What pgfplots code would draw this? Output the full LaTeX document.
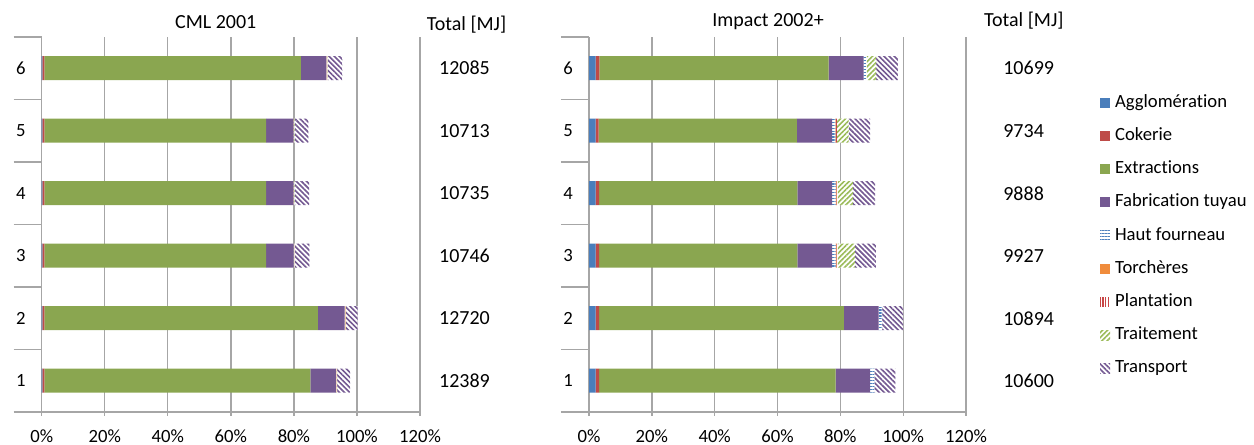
\documentclass[border=0pt]{standalone}
\usepackage{pgfplots}
\pgfplotsset{compat=1.18}
\usepackage{pgfplotstable}
\usepackage{fontspec}
\setmainfont{Carlito}[Ligatures=NoCommon]
\usetikzlibrary{patterns.meta}

\definecolor{agg}{RGB}{74,126,187}
\definecolor{cok}{RGB}{190,75,72}
\definecolor{ext}{RGB}{138,166,80}
\definecolor{fab}{RGB}{116,89,146}
\definecolor{hf}{RGB}{79,129,189}
\definecolor{tor}{RGB}{240,140,60}
\definecolor{pla}{RGB}{200,70,70}
\definecolor{tra}{RGB}{155,187,89}
\definecolor{trn}{RGB}{116,89,146}
\definecolor{axgray}{RGB}{166,166,166}

% CML 2001 shares, % of total
\pgfplotstableread{
cat agg cok ext  fab hf  tor pla tra trn
1   0.2 0.6 84.4 8.1 0.1 0.1 0.1 0.1 4.1
2   0.2 0.6 86.8 8.5 0.1 0.1 0.1 0.1 3.7
3   0.2 0.6 70.4 8.7 0.1 0.1 0.1 0.1 4.6
4   0.2 0.6 70.4 8.6 0.1 0.1 0.1 0.1 4.6
5   0.2 0.6 70.4 8.6 0.1 0.1 0.1 0.1 4.4
6   0.2 0.6 81.4 8.1 0.1 0.1 0.1 0.1 4.7
}\cml

% Impact 2002+ shares, % of total
\pgfplotstableread{
cat agg cok ext  fab  hf  tor pla tra trn
1   2.1 1.1 75.3 11.0 1.3 0.0 0.0 0.0 6.7
2   2.1 1.1 77.9 11.1 1.1 0.0 0.0 0.0 6.7
3   2.1 1.1 63.1 11.1 1.1 0.2 0.4 5.5 6.7
4   2.1 1.1 63.1 11.1 1.1 0.2 0.4 4.9 7.1
5   2.1 1.0 63.1 11.2 1.0 0.2 0.3 3.7 6.9
6   2.1 1.2 73.0 11.1 1.0 0.0 0.0 3.0 6.9
}\imp

\tikzset{tot/.style={anchor=west, inner sep=0pt}}

\pgfplotsset{
  lcabar/.style={
    xbar stacked, bar width=18pt, scale only axis,
    height=281.25pt,
    xmin=0, xmax=120, ymin=0.5, ymax=6.5,
    xtick={0,20,...,120},
    xticklabel={\pgfmathprintnumber{\tick}\%},
    ytick={1,...,6},
    axis lines*=left,
    axis line style={axgray, line width=1pt},
    xmajorgrids, grid style={axgray, line width=1pt},
    tick align=outside, major tick length=3pt,
    tick style={axgray, line width=1pt},
    ytick style={draw=none},
    extra y ticks={0.5,1.5,...,6.5}, extra y tick labels={},
    extra y tick style={major tick length=21pt, ytick style={draw=axgray, line width=1pt}, grid=none},
    /pgf/number format/assume math mode=true,
    tick label style={font=\fontsize{14}{17}\selectfont},
    yticklabel style={xshift=-4pt},
    xticklabel style={yshift=-5pt},
    clip=false,
  },
  sagg/.style={draw=none, fill=agg},
  scok/.style={draw=none, fill=cok},
  sext/.style={draw=none, fill=ext},
  sfab/.style={draw=none, fill=fab},
  shf/.style={draw=none, preaction={fill=white}, pattern={Lines[angle=0,distance=2.2pt,line width=0.9pt]}, pattern color=hf},
  stor/.style={draw=none, fill=tor},
  spla/.style={draw=none, preaction={fill=white}, pattern={Lines[angle=90,distance=2.2pt,line width=0.9pt]}, pattern color=pla},
  stra/.style={draw=none, preaction={fill=white}, pattern={Lines[angle=45,distance=2.7pt,line width=1.2pt]}, pattern color=tra},
  strn/.style={draw=none, preaction={fill=white}, pattern={Lines[angle=-45,distance=2.7pt,line width=1.2pt]}, pattern color=trn},
}

\begin{document}
\fontsize{15}{18}\selectfont
\begin{tikzpicture}
\useasboundingbox (0,0) rectangle (940.5pt,333.75pt);

\begin{axis}[lcabar, width=283.7pt, at={(31.3pt,24.75pt)}, anchor=south west]
\addplot[sagg] table[x=agg, y=cat] {\cml};
\addplot[scok] table[x=cok, y=cat] {\cml};
\addplot[sext] table[x=ext, y=cat] {\cml};
\addplot[sfab] table[x=fab, y=cat] {\cml};
\addplot[shf]  table[x=hf,  y=cat] {\cml};
\addplot[stor] table[x=tor, y=cat] {\cml};
\addplot[spla] table[x=pla, y=cat] {\cml};
\addplot[stra] table[x=tra, y=cat] {\cml};
\addplot[strn] table[x=trn, y=cat] {\cml};
\node[anchor=base] at (axis cs:55.2,6.64) {CML 2001};
\node[anchor=base west, inner sep=0pt] at (axis cs:122.1,6.60) {Total [MJ]};
\node[tot] at (axis cs:126,6) {12085};
\node[tot] at (axis cs:126,5) {10713};
\node[tot] at (axis cs:126,4) {10735};
\node[tot] at (axis cs:126,3) {10746};
\node[tot] at (axis cs:126,2) {12720};
\node[tot] at (axis cs:126,1) {12389};
\end{axis}

\begin{axis}[lcabar, width=282.75pt, at={(441.75pt,24.75pt)}, anchor=south west,
  legend cell align=left,
  legend style={draw=none, fill=none, inner sep=0pt, at={(1.355,0.4707)}, anchor=west,
    font=\fontsize{14}{17}\selectfont,
    row sep=11.9pt, nodes={text height=10pt, text depth=3pt, inner sep=0pt},
    /tikz/every odd column/.append style={column sep=3.75pt}},
  legend image code/.code={\fill[#1] (0pt,-3.75pt) rectangle (7.5pt,3.75pt);},
  legend entries={Agglomération, Cokerie, Extractions, Fabrication tuyau, Haut fourneau, Torchères, Plantation, Traitement, Transport}]
\addplot[sagg] table[x=agg, y=cat] {\imp};
\addplot[scok] table[x=cok, y=cat] {\imp};
\addplot[sext] table[x=ext, y=cat] {\imp};
\addplot[sfab] table[x=fab, y=cat] {\imp};
\addplot[shf]  table[x=hf,  y=cat] {\imp};
\addplot[stor] table[x=tor, y=cat] {\imp};
\addplot[spla] table[x=pla, y=cat] {\imp};
\addplot[stra] table[x=tra, y=cat] {\imp};
\addplot[strn] table[x=trn, y=cat] {\imp};
\node[anchor=base] at (axis cs:57,6.66) {Impact 2002+};
\node[anchor=base west, inner sep=0pt] at (axis cs:125.7,6.66) {Total [MJ]};
\node[tot] at (axis cs:131.8,6) {10699};
\node[tot] at (axis cs:131.8,5) {9734};
\node[tot] at (axis cs:131.8,4) {9888};
\node[tot] at (axis cs:131.8,3) {9927};
\node[tot] at (axis cs:131.8,2) {10894};
\node[tot] at (axis cs:131.8,1) {10600};
\end{axis}
\end{tikzpicture}
\end{document}
